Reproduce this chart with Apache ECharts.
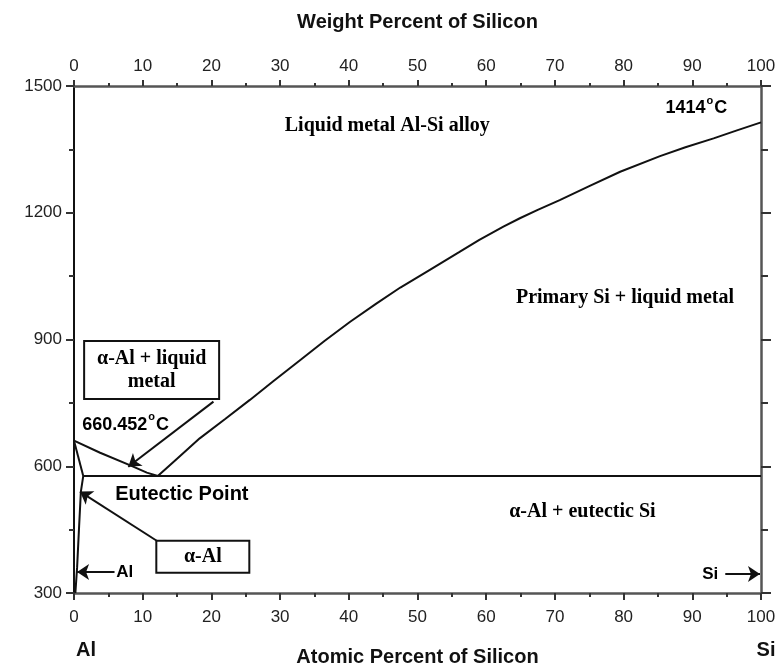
<!DOCTYPE html>
<html><head><meta charset="utf-8">
<script src="https://cdn.jsdelivr.net/npm/echarts@6/dist/echarts.min.js"></script>
<style>html,body{margin:0;padding:0;background:#fff}#c{width:779px;height:668px}</style>
</head><body><div id="c"></div>
<script>
// ---- Data (atomic % Si, temperature °C) ----
const siLiquidusX = [12.2, 15, 18.3, 22, 25.6, 29, 32.9, 36.5, 40.2, 44, 47.5, 51.8, 56, 59, 62.5, 64.9, 67.5, 70.7, 75, 79.5, 85.3, 89, 93.1, 96.5, 100];
const siLiquidusT = [577, 618, 666, 712, 757, 801, 851, 897, 942, 985, 1023, 1065, 1106, 1136, 1167, 1187, 1207, 1230, 1263, 1297, 1334, 1355, 1376, 1395, 1414];
const alLiquidusX = [0, 3.8, 8.2, 10.6, 12.2];
const alLiquidusT = [660.452, 632, 602, 585, 577];
const solidusX = [0, 1.35];
const solidusT = [660.452, 577];
const solvusX = [1.35, 1.0, 0.75, 0.45, 0.2];
const solvusT = [577, 540, 460, 360, 300];
const eutecticX = [1.35, 100];
const eutecticT = [577, 577];

const xTickMin = 0, xTickMax = 100, xTickStep = 10;
const yTickMin = 300, yTickMax = 1500, yTickStep = 300;

const pairs = (xs, ys) => xs.map((x, i) => [x, ys[i]]);

// ---- annotation layout (data coordinates) ----
const serifText = ['Liquid metal Al-Si alloy', 'Primary Si + liquid metal', 'α-Al + eutectic Si'];
const serifPos = [[45.6, 1405], [80.2, 998], [74.0, 492]];
const sansText = ['Eutectic Point', 'Al', 'Si'];
const sansPos = [[15.7, 534], [7.4, 350], [92.6, 345]];
const degText = [['660.452', 'C'], ['1414', 'C']];
const degPos = [[7.5, 703], [90.6, 1452]];
const boxText = ['α-Al + liquid\nmetal', 'α-Al'];
const boxPos = [[11.3, 828], [18.75, 386]];
const arrowFrom = [[20.3, 753], [12.1, 423], [5.9, 350], [94.8, 345]];
const arrowTo = [[7.9, 599], [0.87, 540], [0.45, 350], [99.85, 345]];

const SANS = 'Liberation Sans', SERIF = 'Liberation Serif';
const INK = '#000';
const lineSeries = (name, data) => ({
  name, type: 'line', data, showSymbol: false, symbol: 'none', smooth: false,
  lineStyle: { color: '#111', width: 2 }, z: 3, silent: true
});

const labelPoints = [];
serifText.forEach((t, i) => labelPoints.push({
  value: serifPos[i],
  label: { show: true, position: 'inside', formatter: t, fontFamily: SERIF, fontWeight: 'bold', fontSize: 20, color: INK, textBorderWidth: 0 }
}));
sansText.forEach((t, i) => labelPoints.push({
  value: sansPos[i],
  label: { show: true, position: 'inside', formatter: t, fontFamily: SANS, fontWeight: 'bold', fontSize: i === 0 ? 20 : 17, color: INK, textBorderWidth: 0 }
}));
degText.forEach((t, i) => labelPoints.push({
  value: degPos[i],
  label: {
    show: true, position: 'inside', formatter: '{m|' + t[0] + '}{sup|o}{m|' + t[1] + '}',
    textBorderWidth: 0,
    rich: {
      m: { fontFamily: SANS, fontSize: 18, fontWeight: 'bold', color: INK, verticalAlign: 'bottom', lineHeight: 22 },
      sup: { fontFamily: SANS, fontSize: 11, fontWeight: 'bold', color: INK, verticalAlign: 'top', lineHeight: 22, padding: [0, 1, 0, 1] }
    }
  }
}));
const boxW = [113, 71];
boxText.forEach((t, i) => labelPoints.push({
  value: boxPos[i],
  label: {
    show: true, position: 'inside', formatter: t, fontFamily: SERIF, fontWeight: 'bold', fontSize: 20,
    color: INK, lineHeight: 23, align: 'center', width: boxW[i], textBorderWidth: 0,
    padding: i === 0 ? [5, 10, 5, 10] : [4, 10, 3, 10],
    backgroundColor: '#fff', borderColor: '#111', borderWidth: 2
  }
}));

const option = {
  animation: false,
  backgroundColor: '#fff',
  grid: { left: 74, right: 18, top: 86, bottom: 75, containLabel: false, outerBoundsMode: 'none' },
  xAxis: [
    {
      type: 'value', position: 'bottom', min: xTickMin, max: xTickMax, interval: xTickStep,
      name: 'Atomic Percent of Silicon', nameLocation: 'middle', nameGap: 54,
      nameTextStyle: { fontFamily: SANS, fontWeight: 'bold', fontSize: 20, color: '#111' },
      axisLine: { show: true, onZero: false, lineStyle: { color: '#555', width: 2.5 } },
      axisTick: { show: true, length: 7, lineStyle: { color: '#333', width: 2 } },
      minorTick: { show: true, splitNumber: 2, length: 4, lineStyle: { color: '#333', width: 2 } },
      axisLabel: { fontFamily: SANS, fontSize: 17, color: '#222', margin: 16, showMinLabel: true, showMaxLabel: true },
      splitLine: { show: false }, minorSplitLine: { show: false }
    },
    {
      type: 'value', position: 'top', min: xTickMin, max: xTickMax, interval: xTickStep,
      name: 'Weight Percent of Silicon', nameLocation: 'middle', nameGap: 54,
      nameTextStyle: { fontFamily: SANS, fontWeight: 'bold', fontSize: 20, color: '#111' },
      axisLine: { show: true, onZero: false, lineStyle: { color: '#555', width: 2.5 } },
      axisTick: { show: true, length: 6, lineStyle: { color: '#333', width: 2 } },
      minorTick: { show: true, splitNumber: 2, length: 3, lineStyle: { color: '#333', width: 2 } },
      axisLabel: { fontFamily: SANS, fontSize: 17, color: '#222', margin: 11, showMinLabel: true, showMaxLabel: true },
      splitLine: { show: false }
    },
    {
      type: 'value', position: 'bottom', min: xTickMin, max: xTickMax, interval: xTickMax - xTickMin,
      axisLine: { show: false }, axisTick: { show: false }, splitLine: { show: false },
      axisLabel: {
        margin: 47, showMinLabel: true, showMaxLabel: true,
        formatter: v => v === xTickMin ? '{a|Al}' : (v === xTickMax ? '{b|Si}' : ''),
        rich: {
          a: { fontFamily: SANS, fontWeight: 'bold', fontSize: 20, color: '#111', padding: [0, 0, 0, 24] },
          b: { fontFamily: SANS, fontWeight: 'bold', fontSize: 20, color: '#111', padding: [0, 0, 10, 10] }
        }
      }
    }
  ],
  yAxis: [
    {
      type: 'value', position: 'left', min: yTickMin, max: yTickMax, interval: yTickStep,
      axisLine: { show: true, onZero: false, lineStyle: { color: '#111', width: 2 } },
      axisTick: { show: true, length: 8, lineStyle: { color: '#333', width: 2 } },
      minorTick: { show: true, splitNumber: 2, length: 5, lineStyle: { color: '#333', width: 2 } },
      axisLabel: { fontFamily: SANS, fontSize: 17, color: '#222', margin: 12, showMinLabel: true, showMaxLabel: true, formatter: v => String(v) },
      splitLine: { show: false }
    },
    {
      type: 'value', position: 'right', min: yTickMin, max: yTickMax, interval: yTickStep,
      axisLine: { show: true, onZero: false, lineStyle: { color: '#555', width: 2.5 } },
      axisTick: { show: true, length: 10, lineStyle: { color: '#333', width: 2 } },
      minorTick: { show: true, splitNumber: 2, length: 7, lineStyle: { color: '#333', width: 2 } },
      axisLabel: { show: false }, splitLine: { show: false }
    }
  ],
  series: [
    lineSeries('Si liquidus', pairs(siLiquidusX, siLiquidusT)),
    lineSeries('Al liquidus', pairs(alLiquidusX, alLiquidusT)),
    lineSeries('solidus', pairs(solidusX, solidusT)),
    lineSeries('solvus', pairs(solvusX, solvusT)),
    lineSeries('eutectic', pairs(eutecticX, eutecticT)),
    {
      type: 'line', data: [], silent: true, z: 5,
      markLine: {
        silent: true, symbol: ['none', 'arrow'], symbolSize: 12, animation: false,
        label: { show: false },
        itemStyle: { color: '#111' },
        lineStyle: { color: '#111', width: 2, type: 'solid' },
        data: arrowFrom.map((f, i) => [
          { coord: f, symbol: 'none' },
          { coord: arrowTo[i], symbol: 'arrow', symbolSize: 12, itemStyle: { color: '#111' } }
        ])
      }
    },
    {
      type: 'scatter', symbolSize: 1, silent: true, z: 10,
      itemStyle: { color: 'rgba(0,0,0,0)', opacity: 1 },
      data: labelPoints
    }
  ]
};
echarts.init(document.getElementById('c'), null, { renderer: 'canvas' }).setOption(option);
</script></body></html>
